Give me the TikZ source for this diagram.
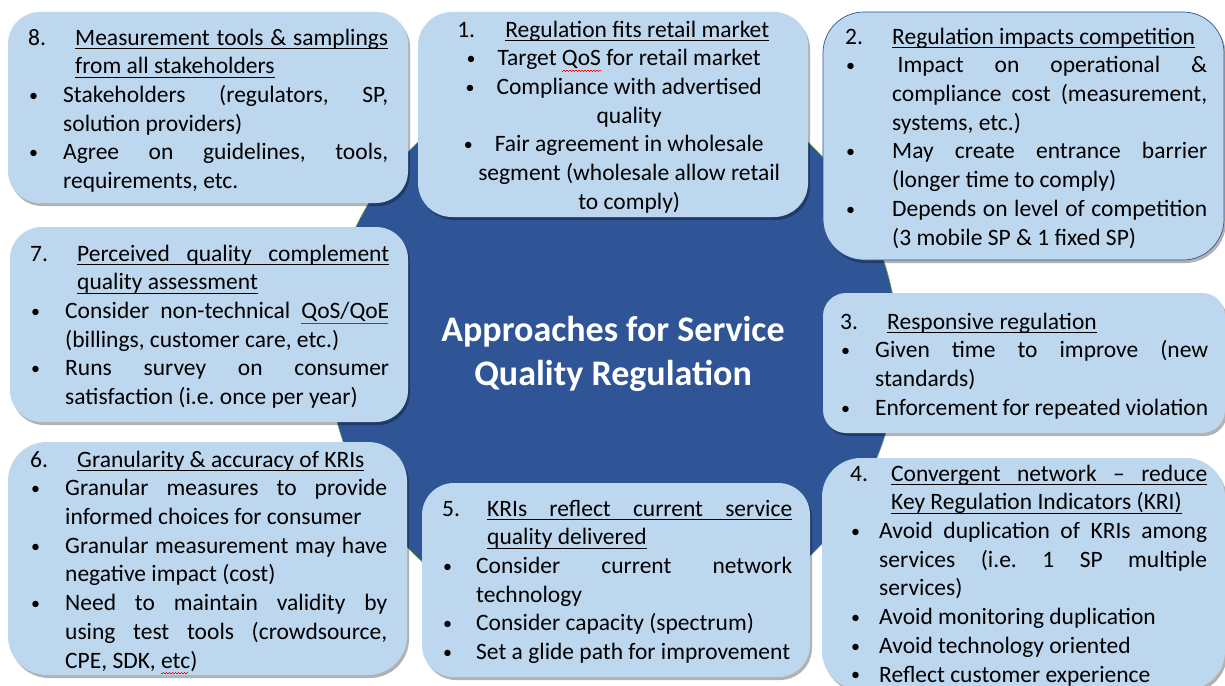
\documentclass[tikz,border=0pt]{standalone}
\usepackage{fontspec}
\setmainfont{Carlito}
\usepackage{tikz}
\usetikzlibrary{shadows}

\definecolor{panelblue}{HTML}{BDD7EE}
\definecolor{hubblue}{HTML}{2F5597}
\definecolor{hubrim}{HTML}{70AD47}

% underline that follows the stretched spaces of justified lines
\newsavebox\ulbox
\newcommand\ulrule{\vrule height -2.9pt depth 4pt}
\newcommand\ulword[1]{\sbox\ulbox{#1}\rlap{\ulrule width\wd\ulbox}\usebox\ulbox}
\newcommand\ulspace{\leaders\ulrule\hskip\fontdimen2\font plus\fontdimen3\font minus\fontdimen4\font\relax}
\def\ulrun#1 #2\ulend{\ulword{#1}\ifx\relax#2\relax\else\ulspace\ulrun#2\ulend\fi}
\newcommand\ul[1]{\ulrun#1 \ulend}
\newcommand\spell[1]{\sbox\ulbox{#1}\rlap{\color{red}\leaders\hbox to 3pt{\rule[-5.6pt]{1.5pt}{.7pt}\rule[-4.9pt]{1.5pt}{.7pt}}\hskip\wd\ulbox}\usebox\ulbox}

\newlength\numw
\newlength\bulw
\newcommand\justset{\parindent=0pt\leftskip=0pt\rightskip=0pt\spaceskip=0pt\xspaceskip=0pt\parfillskip=0pt plus 1fil\relax}
\newcommand\centset{\parindent=0pt\leftskip=0pt plus 1fil\rightskip=0pt plus 1fil\spaceskip=0pt\xspaceskip=0pt\parfillskip=0pt\relax}
\newcommand\bulletmark{\raisebox{1.2pt}{\fontsize{18}{18}\selectfont\textbullet}}
\newcommand\head[2]{\hangindent=\numw\hangafter=1\noindent\strut\makebox[\numw][l]{#1}#2\par}
\newcommand\point[1]{\hangindent=\bulw\hangafter=1\noindent\makebox[\bulw][l]{\kern1pt\bulletmark}#1\par}

\tikzset{
  panel/.style={fill=panelblue, draw=none, inner sep=0pt,
    drop shadow={shadow xshift=2pt, shadow yshift=-3pt, fill=black, opacity=.3}},
  txt/.style={anchor=north west, inner sep=0pt, font=\fontsize{23.5}{28.7}\selectfont},
}

\begin{document}
\frenchspacing\hyphenpenalty=10000\exhyphenpenalty=10000\tolerance=10000\hbadness=10000
\begin{tikzpicture}[x=1pt,y=-1pt]
\useasboundingbox (0,0) rectangle (1225,685);
\clip (0,0) rectangle (1225,685);
\fill[white] (0,0) rectangle (1225,685);

\node[circle, fill=hubblue, draw=hubrim, line width=.6pt, minimum size=570pt] (hub) at (613,350) {};
\node[text=white, align=center, font=\fontsize{36}{44}\selectfont\bfseries] (title) at (hub.center) [yshift=-4pt] {Approaches for Service\\Quality Regulation};

\node[panel, minimum width=400pt, minimum height=191pt, rounded corners=32pt] (b8) at (208,107.5) {};
\node[txt, text width=360pt] (t8) at (28,24.9) {\justset\setlength\numw{47pt}\setlength\bulw{35pt}%
\head{8.}{\ul{Measurement tools \& samplings}\linebreak\ul{from all stakeholders}}
\point{Stakeholders (regulators, SP,\linebreak solution providers)}
\point{Agree on guidelines, tools,\linebreak requirements, etc.}};

\node[panel, minimum width=390pt, minimum height=205pt, rounded corners=34pt] (b1) at (613,114.5) {};
\node[txt, text width=350pt] (t1) at (438,16.9) {\centset\setlength\numw{48pt}\setlength\bulw{32pt}%
\head{1.}{\ul{Regulation fits retail market}}
\point{Target \spell{QoS} for retail market}
\point{Compliance with advertised\linebreak quality}
\point{Fair agreement in wholesale\linebreak segment (wholesale allow retail\linebreak to comply)}};

\node[panel, draw=hubblue, line width=.7pt, minimum width=401pt, minimum height=248pt, rounded corners=41pt] (b2) at (1023.5,136) {};
\node[txt, text width=362pt] (t2) at (845,23.9) {\justset\setlength\numw{47pt}\setlength\bulw{47pt}%
\head{2.}{\ul{Regulation impacts competition}}
\point{\kern5.4pt Impact on operational \&\linebreak compliance cost (measurement,\linebreak systems, etc.)}
\point{May create entrance barrier\linebreak (longer time to comply)}
\point{Depends on level of competition\linebreak (3 mobile SP \& 1 fixed SP)}};

\node[panel, minimum width=402pt, minimum height=140pt, rounded corners=23pt] (b3) at (1024,363) {};
\node[txt, text width=368pt] (t3) at (840,308.9) {\justset\setlength\numw{47pt}\setlength\bulw{35pt}%
\head{3.}{\ul{Responsive regulation}}
\point{Given time to improve (new\linebreak standards)}
\point{Enforcement for repeated violation}};

\node[panel, minimum width=403pt, minimum height=232pt, rounded corners=39pt] (b4) at (1023.5,574) {};
\node[txt, text width=357pt] (t4) at (850,460.9) {\justset\setlength\numw{41pt}\setlength\bulw{29pt}%
\head{4.}{\ul{Convergent network – reduce}\linebreak\ul{Key Regulation Indicators (KRI)}}
\point{Avoid duplication of KRIs among\linebreak services (i.e. 1 SP multiple\linebreak services)}
\point{Avoid monitoring duplication}
\point{Avoid technology oriented}
\point{Reflect customer experience}};

\node[panel, minimum width=388pt, minimum height=194pt, rounded corners=32pt] (b5) at (616,580) {};
\node[txt, text width=350pt] (t5) at (442,495.9) {\justset\setlength\numw{45pt}\setlength\bulw{34pt}%
\head{5.}{\ul{KRIs reflect current service}\linebreak\ul{quality delivered}}
\point{Consider current network\linebreak technology}
\point{Consider capacity (spectrum)}
\point{Set a glide path for improvement}};

\node[panel, minimum width=399pt, minimum height=233pt, rounded corners=39pt] (b6) at (207.5,558.5) {};
\node[txt, text width=357pt] (t6) at (30,446.9) {\justset\setlength\numw{47pt}\setlength\bulw{35pt}%
\head{6.}{\ul{Granularity \& accuracy of KRIs}}
\point{Granular measures to provide\linebreak informed choices for consumer}
\point{Granular measurement may have\linebreak negative impact (cost)}
\point{Need to maintain validity by\linebreak using test tools (crowdsource,\linebreak CPE, SDK, \spell{etc})}};

\node[panel, minimum width=398pt, minimum height=195pt, rounded corners=32pt] (b7) at (209,324.5) {};
\node[txt, text width=359pt] (t7) at (30,240.9) {\justset\setlength\numw{47pt}\setlength\bulw{35pt}%
\head{7.}{\ul{Perceived quality complement}\linebreak\ul{quality assessment}}
\point{Consider non-technical \spell{QoS/QoE}\linebreak (billings, customer care, etc.)}
\point{Runs survey on consumer\linebreak satisfaction (i.e. once per year)}};
\end{tikzpicture}
\end{document}
